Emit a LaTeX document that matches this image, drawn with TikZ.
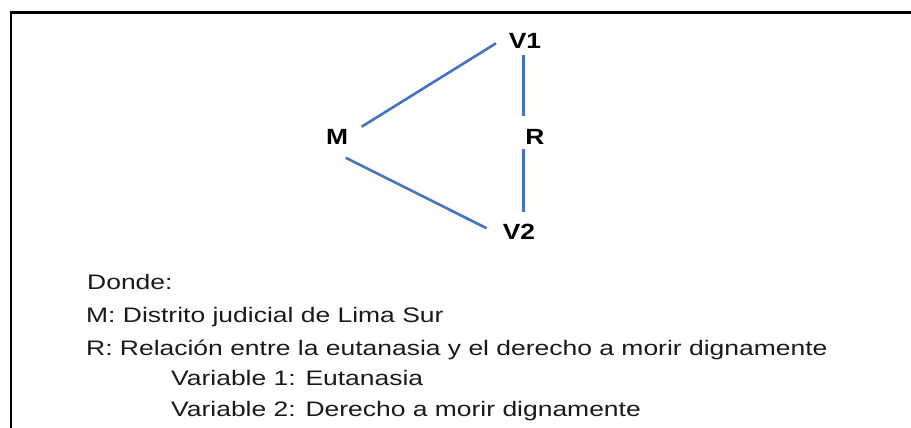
\documentclass[tikz,border=0pt]{standalone}
\usepackage{fontspec}
\setmainfont{Liberation Sans}
\definecolor{lineblue}{HTML}{4472C4}
\definecolor{txt}{HTML}{1A1A1A}
\tikzset{
  lbl/.style={inner sep=0pt, anchor=center, text=black, font=\fontsize{22}{26}\selectfont\bfseries},
  body/.style={inner sep=0pt, anchor=base west, text=txt, font=\fontsize{21}{25}\selectfont},
  conn/.style={draw=lineblue, line width=2.6pt},
  frame/.style={draw=black, line width=2.6pt}
}
\newcommand{\wx}[1]{\scalebox{1.26}[1]{#1}}
\newcommand{\wl}[1]{\scalebox{1.2}[1]{#1}}
\begin{document}
\begin{tikzpicture}[x=1pt, y=-1pt]
\useasboundingbox (0,0) rectangle (911,428);
\draw[frame] (11,428) -- (11,12.3) -- (911,12.3);

\node[lbl] (V1) at (525,41) {\wl{V1}};
\node[lbl] (R)  at (535,137) {\wl{R}};
\node[lbl] (M)  at (337,136.5) {\wl{M}};
\node[lbl] (V2) at (519,232) {\wl{V2}};

\draw[conn] ([shift={(24.7,-9.8)}]M.center) -- ([shift={(-29,2.3)}]V1.center);
\draw[conn] ([shift={(8.7,21.2)}]M.center) -- ([shift={(-32.3,-3.7)}]V2.center);
\draw[conn] ([shift={(-1.7,14)}]V1.center) -- ([shift={(-11.7,-21)}]R.center);
\draw[conn] ([shift={(-11.7,12.3)}]R.center) -- ([shift={(4.3,-20.3)}]V2.center);

\node[body] (t1) at (87,289.5) {\wx{Donde:}};
\node[body] (t2) at (86,322.5) {\wx{M: Distrito judicial de Lima Sur}};
\node[body] (t3) at (86,355) {\wx{R: Relación entre la eutanasia y el derecho a morir dignamente}};
\node[body] (t4) at (171,385.5) {\wx{Variable 1: Eutanasia}};
\node[body] (t5) at (171,416.5) {\wx{Variable 2: Derecho a morir dignamente}};
\end{tikzpicture}
\end{document}
